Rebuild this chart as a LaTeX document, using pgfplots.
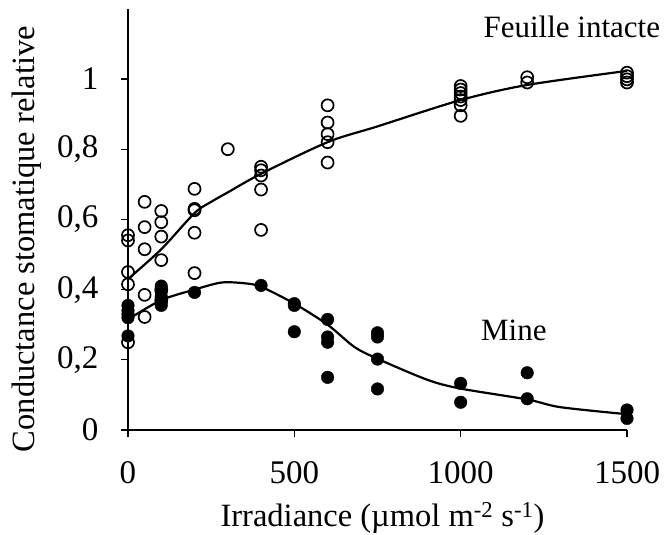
\documentclass[border=0pt]{standalone}
\usepackage{fontspec}
\setmainfont{Liberation Serif}
\usepackage{pgfplots}
\pgfplotsset{compat=1.18}

\begin{document}
\fontsize{31bp}{37bp}\selectfont
\begin{tikzpicture}
\begin{axis}[
  scale only axis, width=499bp, height=421.2bp,
  xmin=0, xmax=1500, ymin=0, ymax=1.2,
  axis x line=bottom, axis y line=left,
  axis line style={-, line width=1.4bp},
  tick align=outside, major tick length=7bp,
  tick style={black, line width=1.2bp},
  xtick={0,500,1000,1500}, xticklabels={0,500,1000,1500},
  ytick={0,0.2,0.4,0.6,0.8,1}, yticklabels={0,{0,2},{0,4},{0,6},{0,8},1},
  tick label style={font=\fontsize{33bp}{38bp}\selectfont},
  xticklabel style={yshift=-14bp},
  yticklabel style={xshift=-12bp},
  xlabel={Irradiance (µmol m\textsuperscript{-2} s\textsuperscript{-1})},
  ylabel={Conductance stomatique relative},
  label style={font=\fontsize{32.5bp}{38bp}\selectfont},
  xlabel style={at={(axis description cs:0.51,0)}, anchor=center, yshift=-88bp},
  ylabel style={at={(axis description cs:-0.204,0.453)}, anchor=center},
  clip=false,
]
% Feuille intacte (open circles)
\addplot[only marks, mark=o, mark size=6bp, line width=1.7bp] coordinates {
(0,0.555) (0,0.54) (0,0.45) (0,0.415) (0,0.25)
(50,0.650) (50,0.578) (50,0.515) (50,0.385) (50,0.322)
(100,0.624) (100,0.592) (100,0.551) (100,0.484) (100,0.40) (100,0.37)
(200,0.687) (200,0.63) (200,0.626) (200,0.562) (200,0.447)
(300,0.80)
(400,0.75) (400,0.74) (400,0.725) (400,0.685) (400,0.57)
(600,0.925) (600,0.876) (600,0.843) (600,0.82) (600,0.762)
(1000,0.98) (1000,0.97) (1000,0.96) (1000,0.95) (1000,0.94) (1000,0.925) (1000,0.895)
(1200,1.005) (1200,0.99)
(1500,1.018) (1500,1.008) (1500,0.999) (1500,0.99)
};
% Mine (filled circles)
\addplot[only marks, mark=*, mark size=6.3bp] coordinates {
(0,0.355) (0,0.34) (0,0.33) (0,0.32) (0,0.268)
(100,0.41) (100,0.395) (100,0.38) (100,0.365) (100,0.355)
(200,0.392)
(400,0.412)
(500,0.36) (500,0.355) (500,0.28)
(600,0.315) (600,0.265) (600,0.25) (600,0.15)
(750,0.277) (750,0.265) (750,0.202) (750,0.117)
(1000,0.133) (1000,0.079)
(1200,0.163) (1200,0.089)
(1500,0.057) (1500,0.033)
};
% fitted curves
\addplot[smooth, line width=2.2bp, no marks] coordinates {
(0,0.43) (100,0.515) (200,0.618) (250,0.65) (300,0.677) (400,0.73)
(600,0.82) (750,0.865) (1000,0.94) (1200,0.983) (1500,1.023)
};
\addplot[smooth, line width=2.2bp, no marks] coordinates {
(0,0.315) (100,0.37) (200,0.40) (280,0.42) (350,0.418) (400,0.408)
(500,0.36) (600,0.30) (680,0.237) (750,0.203) (900,0.143) (1000,0.118)
(1200,0.087) (1300,0.065) (1500,0.045)
};
\node at (axis cs:1334,1.148) {Feuille intacte};
\node at (axis cs:1160,0.285) {Mine};
\end{axis}
\pgfresetboundingbox
\path[use as bounding box] (-128bp,-105bp) rectangle (541bp,430bp);
\end{tikzpicture}
\end{document}
